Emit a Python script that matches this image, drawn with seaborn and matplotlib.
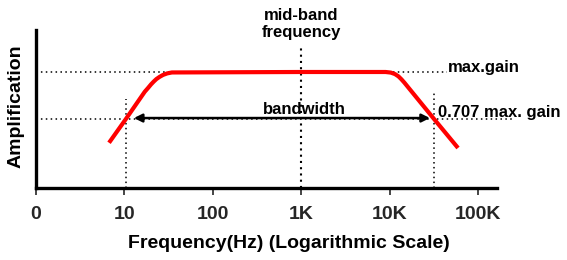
import matplotlib
matplotlib.use("Agg")
import matplotlib.pyplot as plt
import seaborn as sns
import pandas as pd

# ---- data ----
freq_hz = [6.7, 10.4, 17.0, 18.5, 20.0, 21.5, 23.0, 25.0, 27.4, 30.5, 34.5, 1000,
           9000, 10300, 11500, 12600, 13600, 14700, 16100, 31800, 59400]
gain = [0.39, 0.595, 0.83, 0.862, 0.893, 0.918, 0.939, 0.958, 0.975, 0.988, 0.996, 1.0,
        1.0, 0.995, 0.982, 0.962, 0.937, 0.908, 0.871, 0.595, 0.345]
tick_hz = [1, 10, 100, 1000, 10000, 100000]
tick_labels = ["0", "10", "100", "1K", "10K", "100K"]
max_gain = 1.0
cut_gain = 0.595
f_low = 10.4
f_high = 31800
f_mid = 1000

sns.set_style("white")
plt.rcParams["font.family"] = ["Liberation Sans", "DejaVu Sans"]

fig = plt.figure(figsize=(5.67, 2.6), dpi=100)
ax = fig.add_axes([36/567, 1-188/260, (497-36)/567, (188-30)/260])

df = pd.DataFrame({"f": freq_hz, "g": gain})
sns.lineplot(data=df, x="f", y="g", ax=ax, color="#ff0000", linewidth=3, solid_capstyle="butt",
             solid_joinstyle="round", zorder=3)
ax.set_xscale("log")
ax.set_xlim(1, 164000)
ax.set_ylim(0, 1.362)

dot = dict(color="black", linestyle=(0, (1, 2.2)), linewidth=1.1, zorder=2)
ax.plot([1, 44600], [max_gain, max_gain], **dot)
ax.plot([1, 260000], [cut_gain, cut_gain], clip_on=False, **dot)
ax.plot([f_low, f_low], [0, 0.767], **dot)
ax.plot([f_high, f_high], [0, 0.82], **dot)
ax.plot([f_mid, f_mid], [0, 1.216], color="black", linestyle=(0, (1, 2)), linewidth=1.5, zorder=2)

ax.annotate("", xy=(12.8, 0.603), xytext=(28600, 0.603),
            arrowprops=dict(arrowstyle="<|-|>", color="black", lw=1.8,
                            mutation_scale=12, shrinkA=0, shrinkB=0), zorder=4)

bold = dict(fontweight="bold", color="black")
ax.text(f_mid, 1.414, "mid-band\nfrequency", ha="center", va="center", fontsize=12,
        linespacing=1.1, **bold)
ax.text(1100, 0.681, "bandwidth", ha="center", va="center", fontsize=12, **bold)
ax.text(45700, 1.043, "max.gain", ha="left", va="center", fontsize=12, clip_on=False, **bold)
ax.text(35300, 0.655, "0.707 max. gain", ha="left", va="center", fontsize=12, clip_on=False, **bold)

ax.set_xticks(tick_hz)
ax.set_xticklabels(tick_labels, fontsize=14, fontweight="bold")
ax.minorticks_off()
ax.set_yticks([])
ax.set_xlabel("")
ax.set_ylabel("")
ax.tick_params(axis="x", direction="out", length=5, width=1.2, pad=8, bottom=True)

for s in ["top", "right"]:
    ax.spines[s].set_visible(False)
for s in ["left", "bottom"]:
    ax.spines[s].set_linewidth(2.4)
    ax.spines[s].set_color("black")

fig.text(289/567, 1-243/260, "Frequency(Hz) (Logarithmic Scale)", ha="center", va="center",
         fontsize=14, **bold)
fig.text(16/567, 1-106/260, "Amplification", ha="center", va="center", rotation=90,
         fontsize=14, **bold)

fig.savefig("out.png", dpi=100, facecolor="white")
